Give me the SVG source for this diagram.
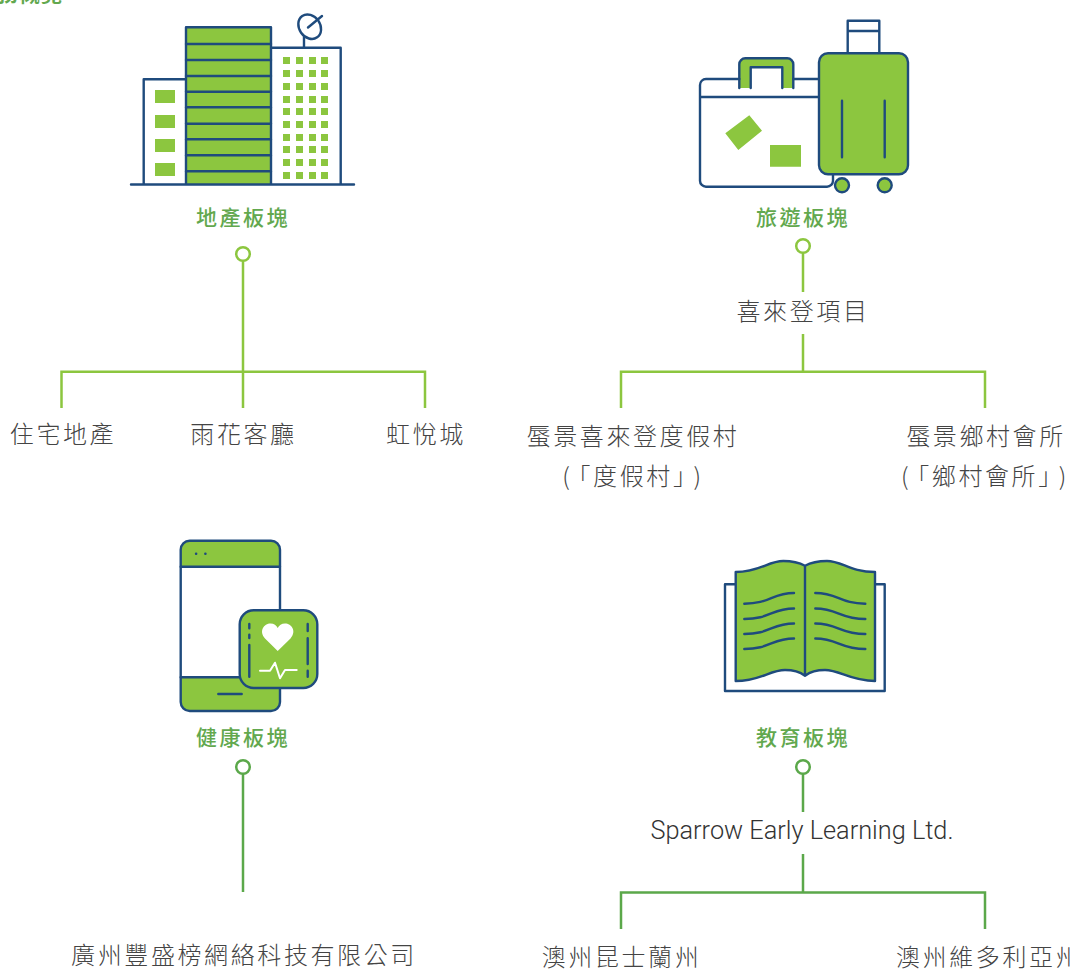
<svg xmlns="http://www.w3.org/2000/svg" width="1070" height="971" viewBox="0 0 1070 971">
<style>
text{font-family:"Noto Sans CJK TC","Noto Sans CJK SC",sans-serif}
.h{font-size:21px;font-weight:500;fill:#62a84e;letter-spacing:2.5px;text-anchor:middle}
.t{font-size:24px;font-weight:300;fill:#444;letter-spacing:2.6px;text-anchor:middle}
.s{text-anchor:start}
.e{font-family:"Roboto","Liberation Sans",sans-serif;font-size:25.3px;font-weight:300;fill:#333;text-anchor:middle}
.n{fill:none;stroke:#1f4b7d;stroke-width:2.4;stroke-linecap:round;stroke-linejoin:round}
.f{fill:#8cc63f}
.w{fill:#fff}
.lt{fill:none;stroke:#8cc63f;stroke-width:2.5}
.dk{fill:none;stroke:#5ba84a;stroke-width:2.5}
</style>
<text x="63" y="1" font-size="21" font-weight="700" fill="#62a84e" text-anchor="end" letter-spacing="1">業務概覽</text>
<g id="connectors">
<g class="lt">
<circle cx="243" cy="254" r="6.8"/>
<path d="M243 261V408M61.500 408V371.700H425V408"/>
<circle cx="803" cy="246" r="6.800"/>
<path d="M803 253V292M803 334V371.700M621 408V371.700H985V408"/>
</g>
<g class="dk">
<circle cx="243" cy="767" r="6.800"/>
<path d="M243 774V892"/>
<circle cx="803" cy="767" r="6.800"/>
<path d="M803 774V812M803 854V892.500M621 929V892.500H985V929"/>
</g>
</g>
<g id="property">
<rect class="f" x="186" y="27.300" width="85" height="157"/>
<g class="n">
<path d="M131 184.500H354M143.700 184.500V79.300H186M186 184.500V27.300H271V184.500M271 47.700H340.700V184.500"/>
<path d="M186 44H271M186 60H271M186 76H271M186 91.700H271M186 107.300H271M186 123.700H271M186 139.300H271M186 155.300H271M186 171.300H271"/>
<ellipse cx="309.700" cy="26.700" rx="10.500" ry="13" transform="rotate(-35 309.700 26.700)"/>
<path d="M304 37V47.700M308 27.500L322 16"/>
</g>
<g class="f">
<rect x="155" y="90" width="20" height="13"/><rect x="155" y="115" width="20" height="13"/><rect x="155" y="139" width="20" height="13"/><rect x="155" y="163" width="20" height="13"/>
<path d="M283 57h7v7h-7zM296 57h7v7h-7zM309 57h7v7h-7zM321 57h7v7h-7zM283 70h7v7h-7zM296 70h7v7h-7zM309 70h7v7h-7zM321 70h7v7h-7zM283 83h7v7h-7zM296 83h7v7h-7zM309 83h7v7h-7zM321 83h7v7h-7zM283 96h7v7h-7zM296 96h7v7h-7zM309 96h7v7h-7zM321 96h7v7h-7zM283 108h7v7h-7zM296 108h7v7h-7zM309 108h7v7h-7zM321 108h7v7h-7zM283 121h7v7h-7zM296 121h7v7h-7zM309 121h7v7h-7zM321 121h7v7h-7zM283 134h7v7h-7zM296 134h7v7h-7zM309 134h7v7h-7zM321 134h7v7h-7zM283 146h7v7h-7zM296 146h7v7h-7zM309 146h7v7h-7zM321 146h7v7h-7zM283 159h7v7h-7zM296 159h7v7h-7zM309 159h7v7h-7zM321 159h7v7h-7zM283 172h7v7h-7zM296 172h7v7h-7zM309 172h7v7h-7zM321 172h7v7h-7z"/>
</g>
<text class="h" x="243" y="225">地產板塊</text>
</g>
<g id="tourism">
<path class="f" d="M739.300 88V64a6 6 0 0 1 6-6H787a6 6 0 0 1 6 6V88H782.300V67.300H750.700V88Z"/>
<path class="n" d="M739.300 88V64.300a6 6 0 0 1 6-6H787.300a6 6 0 0 1 6 6V88M750.700 88V67.300H782.300V88"/>
<path class="n" d="M739.300 79H706a6 6 0 0 0-6 6V180.700a6 6 0 0 0 6 6H827a6 6 0 0 0 6-6V174M793.300 79H819M700 97H819"/>
<path class="f" d="M725.300 133.300L749.300 115.300L762 130.700L738.300 150ZM770 145H801V166.700H770Z"/>
<path class="n" d="M847.700 53V20.700H879.300V53M847.700 31H879.300"/>
<rect class="f" x="819" y="53.300" width="89" height="121" rx="9"/>
<rect class="n" x="819" y="53.300" width="89" height="121" rx="9"/>
<path class="n" d="M842 100.700V157.300M884.700 100.700V157.300"/>
<circle class="f" cx="842" cy="185.300" r="7"/><circle class="n" cx="842" cy="185.300" r="7"/>
<circle class="f" cx="884.700" cy="185.300" r="7"/><circle class="n" cx="884.700" cy="185.300" r="7"/>
<text class="h" x="803" y="225">旅遊板塊</text>
</g>
<g id="health">
<path class="f" d="M180.700 566.700V549.700a9 9 0 0 1 9-9H271a9 9 0 0 1 9 9V566.700ZM180.700 677.300H280V702a9 9 0 0 1-9 9H189.700a9 9 0 0 1-9-9Z"/>
<rect class="n" x="180.700" y="540.700" width="99.300" height="170.300" rx="9"/>
<path class="n" d="M180.700 566.700H280M180.700 677.300H240M218.300 694H241.700"/>
<path class="n" d="M196 553.700h.2M205.300 553.700h.2"/>
<rect class="f" x="239.700" y="610.300" width="77.600" height="77.700" rx="14"/>
<rect class="n" x="239.700" y="610.300" width="77.600" height="77.700" rx="14"/>
<path class="n" d="M249.300 624V628.300M249.300 634.700V638M249.300 645V676.700M307.700 624V631M307.700 638.300V664M307.700 670.700V676.700"/>
<path class="w" d="M277.700 651L265 638.500C258.500 631 264 623.500 270.500 623.500C274 623.500 276.500 625.500 277.700 628C279 625.500 281.500 623.500 285 623.500C291.500 623.500 297 631 290.500 638.500Z"/>
<path d="M260 670.700H270L275 662.700L280 678.300L285 670H296.700" fill="none" stroke="#fff" stroke-width="2" stroke-linecap="round" stroke-linejoin="round"/>
<text class="h" x="243" y="745">健康板塊</text>
</g>
<g id="education">
<rect class="n" x="725" y="584.300" width="159.700" height="106.700"/>
<path class="f" d="M735.700 572C760 572 768 561 783.300 561C795 561 800 563 805 565.700C810 563 815 561 827 561C842 561 850 572 875 572V681C850 681 840 670 825 670C815 670 810 672 805 675.700C800 672 795 670 785 670C770 670 760 681 735.700 681Z"/>
<path class="n" d="M735.700 572C760 572 768 561 783.300 561C795 561 800 563 805 565.700C810 563 815 561 827 561C842 561 850 572 875 572V681C850 681 840 670 825 670C815 670 810 672 805 675.700C800 672 795 670 785 670C770 670 760 681 735.700 681ZM805 565.700V675.700"/>
<path class="n" d="M744.300 603.700C770 603.700 772 593 794 593M744.300 619C770 619 772 608.500 794 608.500M744.300 634C770 634 772 623.500 794 623.500M744.300 649C770 649 772 638.500 794 638.500M815.300 593C838 593 840 603.700 865.300 603.700M815.300 608.500C838 608.500 840 619 865.300 619M815.300 623.500C838 623.500 840 634 865.300 634M815.300 638.500C838 638.500 840 649 865.300 649"/>
<text class="h" x="803" y="745">教育板塊</text>
</g>
<g id="labels">
<text class="t" x="63" y="443">住宅地產</text>
<text class="t" x="243.500" y="443">雨花客廳</text>
<text class="t" x="426" y="443">虹悅城</text>
<text class="t" x="803" y="319.500">喜來登項目</text>
<text class="t" x="633" y="445">蜃景喜來登度假村</text>
<text class="t" x="633" y="485">(<tspan dx="6">「度假村」</tspan><tspan dx="6">)</tspan></text>
<text class="t" x="986" y="445">蜃景鄉村會所</text>
<text class="t" x="985" y="485">(<tspan dx="6">「鄉村會所」</tspan><tspan dx="6">)</tspan></text>
<text class="t" x="244" y="964">廣州豐盛榜網絡科技有限公司</text>
<text class="e" x="802" y="839">Sparrow Early Learning Ltd.</text>
<text class="t" x="621.500" y="966">澳州昆士蘭州</text>
<text class="t s" x="896" y="966">澳州維多利亞州</text>
</g>
</svg>
